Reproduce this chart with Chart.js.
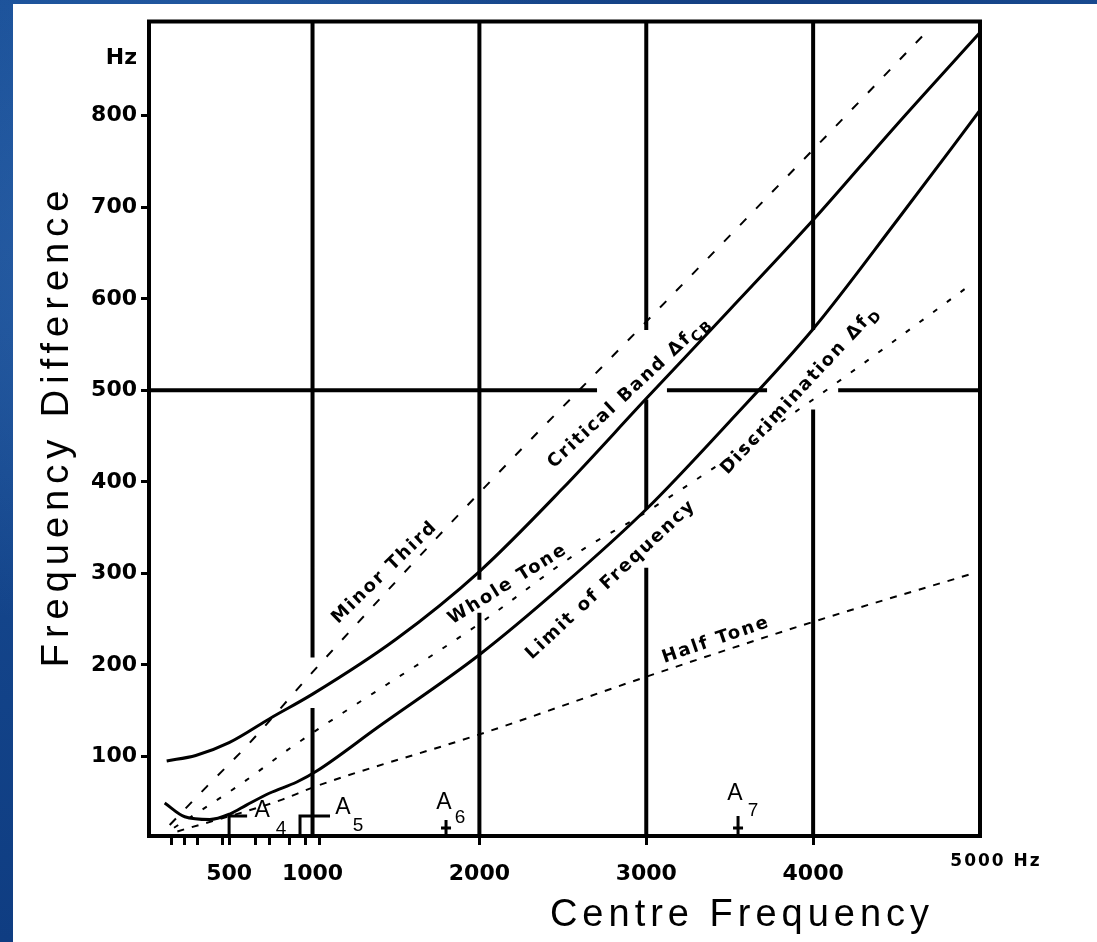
<!DOCTYPE html>
<html>
<head>
<meta charset="utf-8">
<script src="https://cdn.jsdelivr.net/npm/chart.js@4.4.1/dist/chart.umd.min.js"></script>
<style>
  html, body { margin: 0; padding: 0; }
  body {
    width: 1097px; height: 942px; overflow: hidden; position: relative;
    background-color: #164a92;
    background-image:
      radial-gradient(ellipse at 20% 30%, rgba(80, 140, 210, 0.35), transparent 40%),
      radial-gradient(ellipse at 70% 10%, rgba(10, 40, 100, 0.5), transparent 50%),
      linear-gradient(180deg, #1b5199, #0f3d82);
  }
  #panel { position: absolute; left: 13px; top: 4px; width: 1084px; height: 938px; background: #fff; }
  canvas { display: block; }
</style>
</head>
<body>
<div id="panel"><canvas id="chart" width="1084" height="938"></canvas></div>
<script>
// centre frequency (Hz) and frequency difference (Hz) for each curve
var criticalBandF  = [126, 300, 500, 750, 1000, 1500, 2000, 2500, 3000, 3500, 4000, 4500, 5000];
var criticalBandDf = [95, 101, 115, 142, 168, 228, 302, 393, 491, 588, 686, 790, 891];

var discrimF  = [114, 234, 384, 504, 606, 744, 906, 1025, 1385, 2000, 2500, 3000, 3500, 4000, 4500, 5000];
var discrimDf = [49, 34, 31, 37, 47, 60, 72, 84, 131, 211, 287, 370, 466, 567, 685, 806];

var minorThirdF  = [144, 366, 604, 1000, 2000, 3000, 4000, 4702];
var minorThirdDf = [25, 67, 111, 192, 388, 575, 763, 896];

var wholeToneF  = [170, 564, 882, 2000, 2585, 3000, 4000, 4941];
var wholeToneDf = [22, 69, 111, 245, 322, 367, 490, 615];

var halfToneF  = [190, 822, 1000, 2000, 3000, 4000, 4960];
var halfToneDf = [18, 53, 66, 124, 187, 247, 300];

// axis ticks
var xTickLabels = [500, 1000, 2000, 3000, 4000];
var xMinorTicks = [155, 235, 310, 460, 660, 740, 860, 960, 1040];
var yTickValues = [100, 200, 300, 400, 500, 600, 700, 800];

// pitch markers along the frequency axis
var noteNames   = ['A', 'A', 'A', 'A'];
var noteOctaves = ['4', '5', '6', '7'];
var noteFreqs   = [500, 925, 1800, 3550];

function points(fs, dfs) {
  return fs.map(function (f, i) { return { x: f, y: dfs[i] }; });
}

var TICK_FONT = { family: 'DejaVu Sans', weight: 'bold', size: 22 };
var LABEL_FONT = 'bold 18px "DejaVu Sans", sans-serif';
var SUB_FONT = 'bold 14px "DejaVu Sans", sans-serif';

// grid lines are broken where the curve labels sit
var gridColumns = [
  { f: 1000, spans: [[13, 153], [208, 903]] },
  { f: 2000, spans: [[13, 257], [293, 903]] },
  { f: 3000, spans: [[13, 306], [370, 490], [566, 903]] },
  { f: 4000, spans: [[13, 479], [566, 903]] }
];
var gridRows = [
  { v: 500, spans: [[20, 2705], [3124, 3724], [4150, 5000]] }
];

var curveLabels = [
  { text: 'Minor Third', sub: '', f: 1433, v: 301, angle: -44 },
  { text: 'Critical Band \u0394f', sub: 'CB', f: 2897, v: 498, angle: -43 },
  { text: 'Whole Tone', sub: '', f: 2171, v: 288, angle: -32 },
  { text: 'Limit of Frequency', sub: '', f: 2789, v: 293, angle: -43 },
  { text: 'Discrimination \u0394f', sub: 'D', f: 3922, v: 500, angle: -47 },
  { text: 'Half Tone', sub: '', f: 3418, v: 227, angle: -19 }
];

var frameAndGrid = {
  id: 'frameAndGrid',
  beforeDatasetsDraw: function (chart) {
    var ctx = chart.ctx, xs = chart.scales.x, ys = chart.scales.y, a = chart.chartArea;
    ctx.save();
    ctx.strokeStyle = '#000';
    ctx.lineWidth = 4;
    ctx.beginPath();
    gridColumns.forEach(function (c) {
      var px = xs.getPixelForValue(c.f);
      c.spans.forEach(function (s) {
        ctx.moveTo(px, ys.getPixelForValue(s[0]));
        ctx.lineTo(px, ys.getPixelForValue(s[1]));
      });
    });
    gridRows.forEach(function (r) {
      var py = ys.getPixelForValue(r.v);
      r.spans.forEach(function (s) {
        ctx.moveTo(xs.getPixelForValue(s[0]), py);
        ctx.lineTo(xs.getPixelForValue(s[1]), py);
      });
    });
    // top and right edges of the frame
    ctx.moveTo(a.left - 2, a.top);
    ctx.lineTo(a.right + 2, a.top);
    ctx.moveTo(a.right, a.top);
    ctx.lineTo(a.right, a.bottom + 2);
    ctx.stroke();
    ctx.restore();
  }
};

// marker shapes and label offsets (px) for the pitch markers
var markerStyle = [
  { kind: 'bracket', h: 20, len: 18, a: [33, -25], n: [52, -7] },
  { kind: 'bracket', h: 20, len: 30, a: [43, -28], n: [58, -10] },
  { kind: 'cross', h: 16, a: [-2, -33], n: [14, -18] },
  { kind: 'cross', h: 20, a: [-3, -42], n: [15, -25] }
];

var annotations = {
  id: 'annotations',
  afterDatasetsDraw: function (chart) {
    var ctx = chart.ctx, xs = chart.scales.x, ys = chart.scales.y, a = chart.chartArea;
    ctx.save();
    ctx.fillStyle = '#000';
    ctx.strokeStyle = '#000';

    // labels written along the curves
    curveLabels.forEach(function (l) {
      ctx.save();
      ctx.translate(xs.getPixelForValue(l.f), ys.getPixelForValue(l.v));
      ctx.rotate(l.angle * Math.PI / 180);
      ctx.letterSpacing = '2px';
      ctx.font = LABEL_FONT;
      var w = ctx.measureText(l.text).width;
      ctx.font = SUB_FONT;
      var sw = l.sub ? ctx.measureText(l.sub).width : 0;
      var start = -(w + sw) / 2;
      ctx.textBaseline = 'middle';
      ctx.textAlign = 'left';
      ctx.font = LABEL_FONT;
      ctx.fillText(l.text, start, 0);
      if (l.sub) {
        ctx.font = SUB_FONT;
        ctx.fillText(l.sub, start + w, 6);
      }
      ctx.restore();
    });

    // pitch markers on the frequency axis
    ctx.lineWidth = 3;
    ctx.beginPath();
    noteFreqs.forEach(function (f, i) {
      var m = markerStyle[i], px = xs.getPixelForValue(f), base = a.bottom;
      ctx.moveTo(px, base);
      ctx.lineTo(px, base - m.h);
      if (m.kind === 'bracket') {
        ctx.lineTo(px + m.len, base - m.h);
      } else {
        ctx.moveTo(px - 5, base - 8);
        ctx.lineTo(px + 5, base - 8);
      }
    });
    ctx.stroke();
    ctx.textAlign = 'center';
    ctx.textBaseline = 'middle';
    noteFreqs.forEach(function (f, i) {
      var m = markerStyle[i], px = xs.getPixelForValue(f), base = a.bottom;
      ctx.font = '23px "Liberation Sans", Arial, sans-serif';
      ctx.fillText(noteNames[i], px + m.a[0], base + m.a[1]);
      ctx.font = '19px "Liberation Sans", Arial, sans-serif';
      ctx.fillText(noteOctaves[i], px + m.n[0], base + m.n[1]);
    });
    ctx.restore();
  },
  afterDraw: function (chart) {
    var ctx = chart.ctx, xs = chart.scales.x, a = chart.chartArea;
    ctx.save();
    ctx.fillStyle = '#000';

    // unit labels
    ctx.font = 'bold 22px "DejaVu Sans", sans-serif';
    ctx.textAlign = 'right';
    ctx.textBaseline = 'middle';
    ctx.fillText('Hz', a.left - 12, 54);
    ctx.font = 'bold 17px "DejaVu Sans", sans-serif';
    ctx.letterSpacing = '2px';
    ctx.textAlign = 'center';
    ctx.fillText('5000 Hz', xs.getPixelForValue(5000) + 16, 858);

    // axis titles
    ctx.font = '38px "Liberation Sans", Arial, sans-serif';
    ctx.letterSpacing = '5px';
    ctx.textBaseline = 'alphabetic';
    ctx.fillText('Centre Frequency', 729, 922);
    ctx.letterSpacing = '6px';
    ctx.translate(55, 422);
    ctx.rotate(-Math.PI / 2);
    ctx.fillText('Frequency Difference', 0, 0);
    ctx.restore();
  }
};

var ctx = document.getElementById('chart').getContext('2d');
var chart = new Chart(ctx, {
  type: 'line',
  data: {
    datasets: [
      { label: 'Critical Band', data: points(criticalBandF, criticalBandDf), borderWidth: 3 },
      { label: 'Limit of Frequency Discrimination', data: points(discrimF, discrimDf), borderWidth: 3 },
      { label: 'Minor Third', data: points(minorThirdF, minorThirdDf), borderWidth: 2, borderDash: [9, 14] },
      { label: 'Whole Tone', data: points(wholeToneF, wholeToneDf), borderWidth: 2, borderDash: [5, 12] },
      { label: 'Half Tone', data: points(halfToneF, halfToneDf), borderWidth: 2, borderDash: [7, 8] }
    ]
  },
  options: {
    responsive: false,
    devicePixelRatio: 1,
    animation: false,
    events: [],
    layout: { padding: { left: 0, top: 17.5, right: 117, bottom: 0 } },
    elements: {
      line: { borderColor: '#000', fill: false, cubicInterpolationMode: 'monotone' },
      point: { radius: 0 }
    },
    plugins: { legend: { display: false }, tooltip: { enabled: false } },
    scales: {
      x: {
        type: 'linear',
        min: 20,
        max: 5000,
        afterBuildTicks: function (scale) {
          scale.ticks = xMinorTicks.concat(xTickLabels).sort(function (p, q) { return p - q; })
            .map(function (v) { return { value: v }; });
        },
        afterFit: function (scale) { scale.height = 106; },
        border: { display: true, color: '#000', width: 4 },
        grid: {
          drawOnChartArea: false,
          tickLength: 9,
          tickWidth: 3,
          tickColor: function (c) { return c.tick && c.tick.value === 1000 ? 'rgba(0,0,0,0)' : '#000'; }
        },
        ticks: {
          autoSkip: false,
          maxRotation: 0,
          minRotation: 0,
          padding: 16,
          color: '#000',
          font: TICK_FONT,
          callback: function (v) { return xTickLabels.indexOf(v) >= 0 ? String(v) : ''; }
        }
      },
      y: {
        type: 'linear',
        min: 13,
        max: 903,
        afterBuildTicks: function (scale) {
          scale.ticks = yTickValues.map(function (v) { return { value: v }; });
        },
        afterFit: function (scale) { scale.width = 136; },
        border: { display: true, color: '#000', width: 4 },
        grid: { drawOnChartArea: false, tickLength: 8, tickWidth: 3, tickColor: '#000' },
        ticks: { padding: 4, color: '#000', font: TICK_FONT }
      }
    }
  },
  plugins: [frameAndGrid, annotations]
});
</script>
</body>
</html>
